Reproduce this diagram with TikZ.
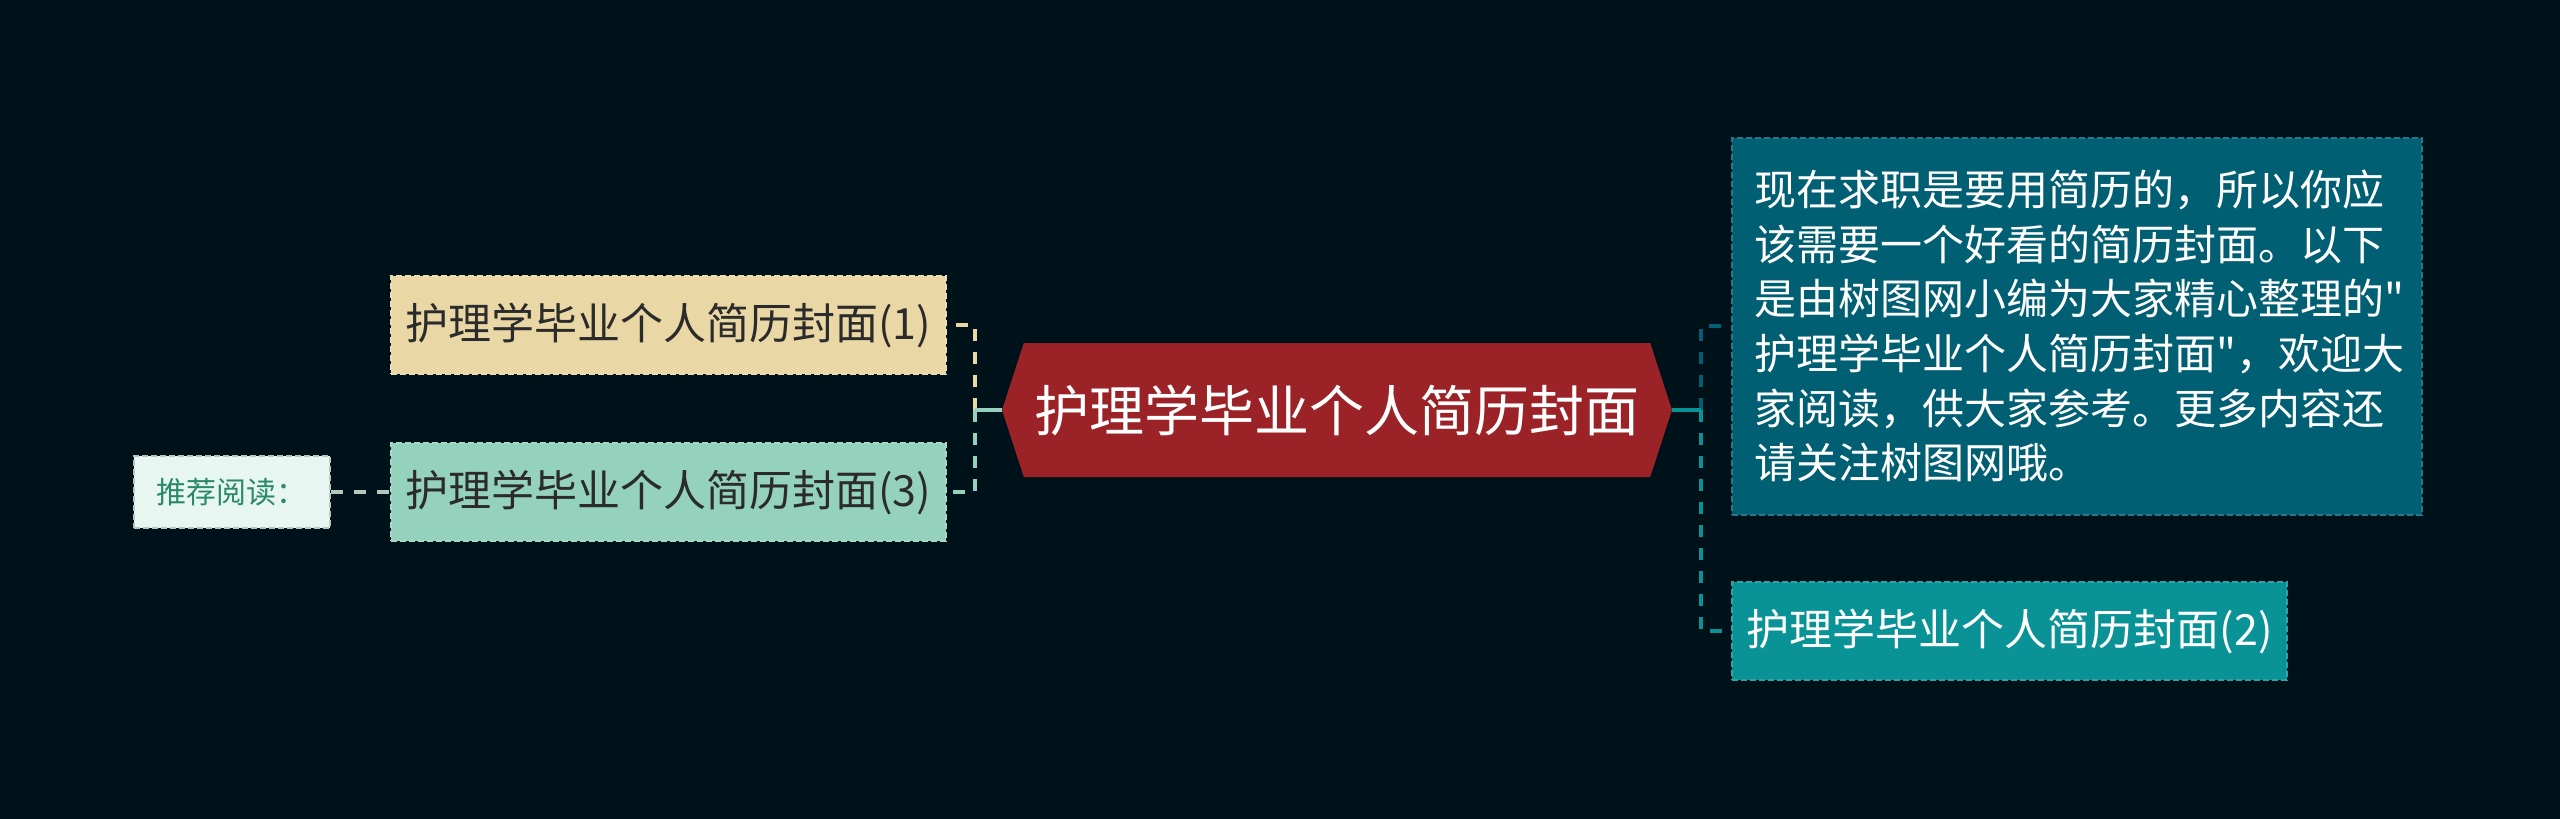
\documentclass[tikz,border=0pt]{standalone}
\usepackage{fontspec}
\newfontfamily\cjk{Noto Sans CJK SC}
\usetikzlibrary{positioning, shapes.symbols}

\definecolor{bgnavy}{HTML}{001219}
\definecolor{hubred}{HTML}{9B2226}
\definecolor{sand}{HTML}{E9D8A6}
\definecolor{mint}{HTML}{94D2BD}
\definecolor{deepteal}{HTML}{005F73}
\definecolor{midteal}{HTML}{0A9396}
\definecolor{tagfill}{HTML}{E8F6F1}
\definecolor{taggreen}{HTML}{2A8A68}
\definecolor{tagline}{HTML}{B4C8C0}
\definecolor{inkdark}{HTML}{2B2B2B}

\begin{document}
\begin{tikzpicture}[
    x=0.5pt, y=-0.5pt,
    hub/.style = {signal, signal to=west and east, signal pointer angle=144, fill=hubred, text=white, inner sep=0pt, minimum width=335pt, minimum height=67pt, font=\cjk\fontsize{27.5pt}{33pt}\selectfont},
    leaf/.style = {rectangle, fill=#1, draw=#1!85!white, dash pattern=on 3pt off 1.5pt, line width=1pt, minimum width=277.5pt, minimum height=49pt, inner sep=0pt, font=\cjk\fontsize{21.5pt}{26pt}\selectfont},
    note/.style = {rectangle, fill=deepteal, draw=deepteal!85!white, dash pattern=on 3pt off 1.5pt, line width=1pt, text=white, align=left, text width=323pt, inner xsep=11pt, minimum height=188.5pt, font=\cjk\fontsize{21pt}{27.35pt}\selectfont},
    tag/.style = {rectangle, fill=tagfill, draw=tagline, dash pattern=on 3pt off 1.5pt, line width=1pt, text=taggreen, minimum width=98pt, minimum height=36pt, inner sep=0pt, font=\cjk\fontsize{15pt}{18pt}\selectfont},
    branch/.style = {line width=2pt, dash pattern=on 6pt off 5.5pt},
    stem/.style = {line width=2pt}
]

% Canvas
\fill[bgnavy] (0,0) rectangle (2560,819);
\useasboundingbox (0,0) rectangle (2560,819);

% Central topic
\node[hub] (hub) at (1337,410) {护理学毕业个人简历封面};

% Left branch
\node[leaf=sand, text=inkdark, left=27.5pt of hub, yshift=42.5pt] (cover_one) {护理学毕业个人简历封面(1)};
\node[leaf=mint, text=inkdark, left=27.5pt of hub, yshift=-41pt] (cover_three) {护理学毕业个人简历封面(3)};
\node[tag, left=29.5pt of cover_three] (tag_read) {推荐阅读：};

% Right branch
\node[note, right=29.5pt of hub, yshift=42pt] (intro) {现在求职是要用简历的，所以你应\\该需要一个好看的简历封面。以下\\是由树图网小编为大家精心整理的"\\护理学毕业个人简历封面"，欢迎大\\家阅读，供大家参考。更多内容还\\请关注树图网哦。};
\node[leaf=midteal, text=white, right=29.5pt of hub, yshift=-110.5pt] (cover_two) {护理学毕业个人简历封面(2)};

% Connectors
\coordinate (left_fork) at ([xshift=-13.5pt]hub.west);
\coordinate (right_fork) at ([xshift=14.5pt]hub.east);
\draw[branch, sand] (left_fork) |- (cover_one.east);
\draw[branch, mint] (left_fork) |- (cover_three.east);
\draw[stem, mint] (hub.west) -- (left_fork);
\draw[branch, deepteal] (right_fork) |- (intro.west);
\draw[branch, midteal] (right_fork) |- (cover_two.west);
\draw[stem, midteal] (hub.east) -- (right_fork);
\draw[branch, tagline] (tag_read.east) -- (cover_three.west);

\end{tikzpicture}
\end{document}
